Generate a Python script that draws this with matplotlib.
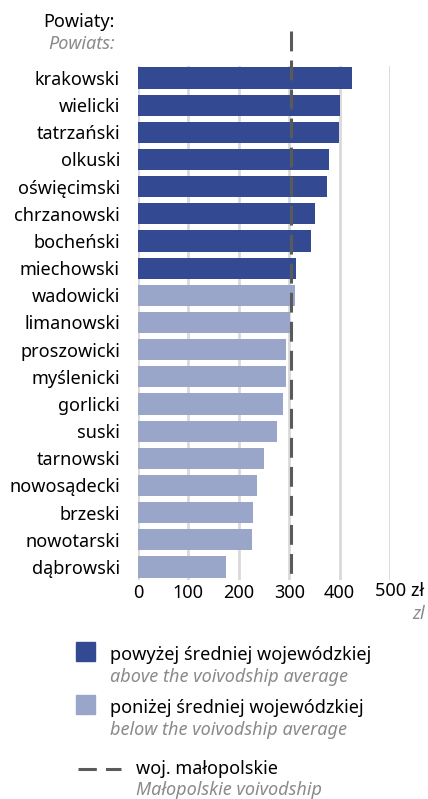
import matplotlib.pyplot as plt
import matplotlib.transforms as mtransforms
from matplotlib.patches import Rectangle
from matplotlib.lines import Line2D

plt.rcParams['font.family'] = ['Noto Sans', 'DejaVu Sans']

powiaty = ['krakowski', 'wielicki', 'tatrzański', 'olkuski', 'oświęcimski',
           'chrzanowski', 'bocheński', 'miechowski', 'wadowicki', 'limanowski',
           'proszowicki', 'myślenicki', 'gorlicki', 'suski', 'tarnowski',
           'nowosądecki', 'brzeski', 'nowotarski', 'dąbrowski']
wartosci = [424, 401, 399, 379, 375, 351, 343, 313, 311, 302,
            294, 293, 288, 276, 250, 236, 228, 226, 175]
grupa = ['powyżej'] * 8 + ['poniżej'] * 11
srednia = 304
ticks = [0, 100, 200, 300, 400, 500]

dark = '#334a93'
light = '#99a6c9'
grey_txt = '#8a8a8a'
fs = 13

fig = plt.figure(figsize=(4.28, 7.99), dpi=100)
ax = fig.add_axes([138 / 428, 1 - 580 / 799, 252 / 428, 514 / 799])

ypos = list(range(len(powiaty)))
colors = [dark if g == 'powyżej' else light for g in grupa]
ax.barh(ypos, wartosci, height=0.78, color=colors, zorder=2)

ax.set_xlim(0, 500)
ax.set_ylim(len(powiaty) - 0.52, -0.44)

for t in ticks:
    ax.axvline(t, color='#d9d9d9', lw=2, zorder=1)

ax.plot([srednia, srednia], [-1.73, len(powiaty) - 0.52], color='#5a5a5a',
        lw=2.2, dashes=(6.5, 3), clip_on=False, zorder=3)

ax.set_yticks(ypos)
ax.set_yticklabels(powiaty, fontsize=fs)
ax.set_xticks(ticks)
ax.set_xticklabels(['0', '100', '200', '300', '400', ''], fontsize=fs)
ax.tick_params(length=0, pad=3)
ax.tick_params(axis='y', pad=13)
for s in ax.spines.values():
    s.set_visible(False)

trans = mtransforms.blended_transform_factory(ax.transData, fig.transFigure)
ax.text(500, 1 - 591 / 799, '500 zł', fontsize=fs, ha='center', va='center',
        transform=trans + mtransforms.ScaledTranslation(10 / 100, 0, fig.dpi_scale_trans))

fig.text(425 / 428, 1 - 614 / 799, 'zl', fontsize=fs, style='italic', color=grey_txt,
         ha='right', va='center')

fig.text(115 / 428, 1 - 22 / 799, 'Powiaty:', fontsize=fs, ha='right', va='center')
fig.text(115 / 428, 1 - 44 / 799, 'Powiats:', fontsize=fs, style='italic',
         color=grey_txt, ha='right', va='center')

# legenda
fig.patches.append(Rectangle((76 / 428, 1 - 661 / 799), 19 / 428, 19 / 799,
                             transform=fig.transFigure, color=dark))
fig.patches.append(Rectangle((76 / 428, 1 - 714 / 799), 19 / 428, 19 / 799,
                             transform=fig.transFigure, color=light))
fig.lines.append(Line2D([78 / 428, 121 / 428], [1 - 769 / 799, 1 - 769 / 799],
                        transform=fig.transFigure, color='#5a5a5a', lw=2.2,
                        dashes=(6, 3)))

fig.text(110 / 428, 1 - 655 / 799, 'powyżej średniej wojewódzkiej', fontsize=fs, va='center')
fig.text(110 / 428, 1 - 677 / 799, 'above the voivodship average', fontsize=fs,
         style='italic', color=grey_txt, va='center')
fig.text(110 / 428, 1 - 708 / 799, 'poniżej średniej wojewódzkiej', fontsize=fs, va='center')
fig.text(110 / 428, 1 - 730 / 799, 'below the voivodship average', fontsize=fs,
         style='italic', color=grey_txt, va='center')
fig.text(136 / 428, 1 - 769 / 799, 'woj. małopolskie', fontsize=fs, va='center')
fig.text(136 / 428, 1 - 790 / 799, 'Małopolskie voivodship', fontsize=fs,
         style='italic', color=grey_txt, va='center')

fig.savefig('out.png', dpi=100)
